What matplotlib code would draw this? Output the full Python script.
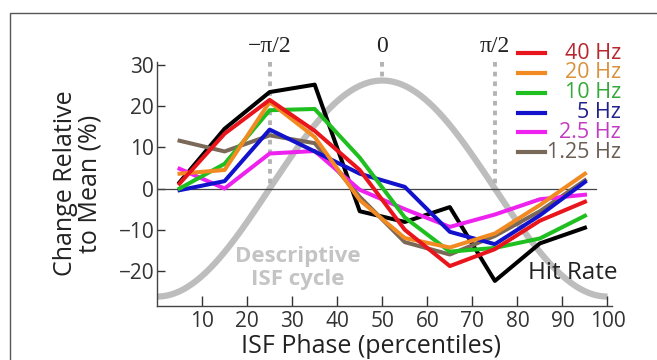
import matplotlib
matplotlib.use("Agg")
import matplotlib.pyplot as plt
import numpy as np

# ISF phase bins (percentiles)
phase = [5, 15, 25, 35, 45, 55, 65, 75, 85, 95]

# change relative to mean (%) per frequency band
hit_rate = [1.5, 14.5, 23.4, 25.2, -5.5, -8.1, -4.5, -22.4, -13.3, -9.5]
hz40 = [1.2, 13.3, 21.5, 14.0, 4.5, -10.0, -18.8, -14.7, -7.8, -3.2]
hz20 = [3.6, 4.5, 21.0, 12.5, -2.8, -12.0, -14.3, -10.9, -4.0, 3.6]
hz10 = [0.0, 6.0, 19.0, 19.3, 7.5, -7.0, -15.3, -14.4, -12.1, -6.6]
hz5 = [-0.4, 1.8, 14.3, 9.0, 3.6, 0.4, -10.5, -13.5, -6.5, 1.6]
hz2_5 = [4.8, 0.0, 8.5, 9.1, -0.3, -5.0, -9.3, -6.3, -2.6, -1.5]
hz1_25 = [11.6, 9.0, 12.9, 11.0, -2.0, -13.0, -16.0, -11.5, -5.5, 2.0]

labels = ["40 Hz", "20 Hz", "10 Hz", "5 Hz", "2.5 Hz", "1.25 Hz"]
series = [hz40, hz20, hz10, hz5, hz2_5, hz1_25]
line_cols = ["#e8161c", "#f28a22", "#1fbf1f", "#1212cc", "#ee22ee", "#7a6858"]
text_cols = ["#b8262e", "#d9913c", "#36a83c", "#20208c", "#c23cc2", "#6a5e54"]

# descriptive ISF cycle (cosine sketch) and its phase markers
cycle_amp = 26.2
phase_marks = [25, 50, 75]
phase_names = ["\u2212\u03c0/2", "0", "\u03c0/2"]

plt.rcParams['font.family'] = ['Open Sans', 'DejaVu Sans']

fig = plt.figure(figsize=(6.57, 3.6), dpi=100)
ax = fig.add_axes([0.239, 0.151, 0.6925, 0.678])

# frame around the panel
fig.add_artist(plt.Rectangle((10/657, -0.2), 1.2, 1.2 - 13/360,
                             transform=fig.transFigure, fill=False,
                             edgecolor="#555555", lw=1.0))

xmin, xmax = 0, 101
ymin, ymax = -28.4, 30.8

xc = np.linspace(0, 100, 300)
yc = -cycle_amp * np.cos(2 * np.pi * xc / 100)
ax.plot(xc, yc, color="#bdbdbd", lw=4.5, solid_capstyle="butt", zorder=1)

for pm in phase_marks:
    ytop = -cycle_amp * np.cos(2 * np.pi * pm / 100)
    ax.plot([pm, pm], [ymax, ytop], color="#b3b3b3", lw=2.8,
            ls=(0, (1.2, 1.3)), zorder=1, clip_on=False)

ax.plot([0, 97.5], [0, 0], color="#444444", lw=0.9, zorder=2)

ax.plot(phase, hit_rate, color="black", lw=2.9, zorder=3)
for i in range(len(series) - 1, -1, -1):
    ax.plot(phase, series[i], color=line_cols[i], lw=2.9, zorder=4 + len(series) - i)

ax.set_xlim(xmin, xmax)
ax.set_ylim(ymin, ymax)
ax.set_xticks([10, 20, 30, 40, 50, 60, 70, 80, 90, 100])
ax.set_yticks([-20, -10, 0, 10, 20, 30])
ax.set_yticklabels(["\u221220", "\u221210", "0", "10", "20", "30"])
ax.tick_params(axis="x", direction="in", length=7, width=1, labelsize=15,
               colors="#333333", pad=4)
ax.tick_params(axis="y", direction="in", length=6, width=1, labelsize=15,
               colors="#333333", pad=2)
for s in ["top", "right"]:
    ax.spines[s].set_visible(False)
for s in ["left", "bottom"]:
    ax.spines[s].set_color("#444444")
    ax.spines[s].set_linewidth(1.0)

# phase labels above the axes
for pm, nm in zip(phase_marks, phase_names):
    ax.text(pm, ymax + 1.0, nm, ha="center", va="bottom", fontsize=17,
            family=["Liberation Serif", "DejaVu Serif"], color="#222222")

ax.text(31.3, -19.3, "Descriptive\nISF cycle", ha="center", va="center",
        fontsize=16, fontweight="bold", color="#c4c4c4", linespacing=1.1)
ax.text(82.3, -20.5, "Hit Rate", ha="left", va="center", fontsize=17.5,
        color="#222222", zorder=20)

# legend: short line then right-aligned coloured text
leg_y = [53.3, 73.0, 92.8, 112.6, 132.4, 152.2]
for i in range(len(labels)):
    yf = 1 - leg_y[i] / 360
    fig.add_artist(plt.Line2D([518/657, 545/657], [yf, yf], color=line_cols[i],
                              lw=3.0, transform=fig.transFigure))
    fig.text(621/657, yf, labels[i], ha="right", va="center", fontsize=15.5,
             color=text_cols[i])

fig.text(371/657, 0.002, "ISF Phase (percentiles)", ha="center", va="bottom",
         fontsize=18, color="#222222")
fig.text(78/657, 0.49, "Change Relative\nto Mean (%)", ha="center", va="center",
         rotation=90, fontsize=18, color="#222222", linespacing=0.95)

plt.savefig("out.png", dpi=100)
